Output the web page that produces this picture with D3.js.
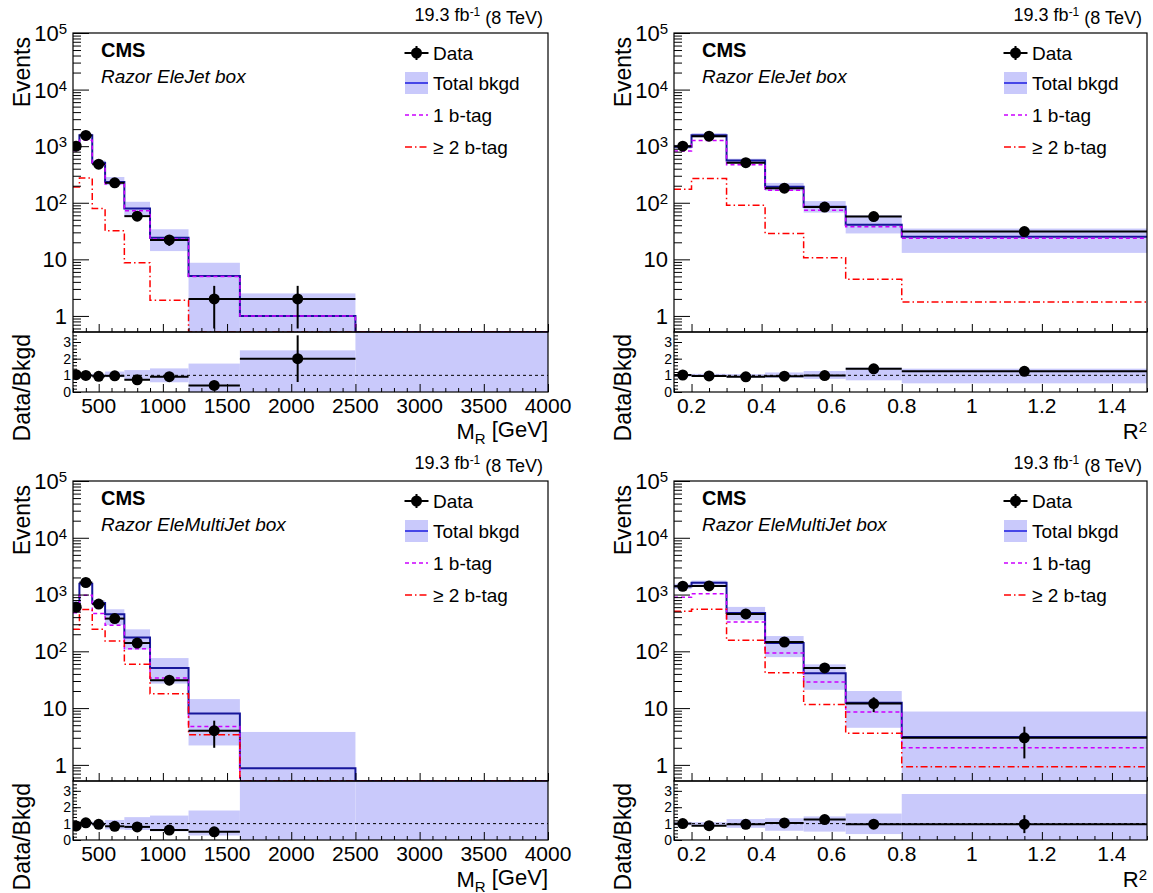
<!DOCTYPE html>
<html>
<head>
<meta charset="utf-8">
<script src="https://cdn.jsdelivr.net/npm/d3@7"></script>
<style>
    body { margin: 0; background: #fff; }
    svg text { font-family: "Liberation Sans", Arial, sans-serif; fill: #000; }
</style>
</head>
<body>
<div id="chart"></div>
<script>

// bin edges
const mrEdges = [300, 350, 450, 550, 700, 900, 1200, 1600, 2500, 4000];
const r2Edges = [0.15, 0.2, 0.3, 0.41, 0.52, 0.64, 0.8, 1.5];

// Razor EleJet box, M_R
const ejMrData    = [1000, 1550, 480, 225, 58, 22, 2, 2, null];
const ejMrDataErr = [32, 39, 22, 15, 7.6, 4.7, 1.4, 1.4, null];
const ejMrTotal   = [960, 1560, 510, 232, 79, 24, 5.1, 1.0, 0.05];
const ejMrBandLo  = [880, 1450, 460, 205, 58, 14, 0, 0, 0];
const ejMrBandHi  = [1040, 1680, 560, 285, 104, 34, 8.7, 2.5, 0.4];
const ejMr1b      = [830, 1270, 470, 215, 72, 23, 5.0, 1.0, 0];
const ejMr2b      = [190, 275, 79, 32, 8.7, 1.9, 0, 0, 0];

// Razor EleJet box, R^2
const ejR2Data    = [1000, 1500, 510, 181, 84, 57, 31];
const ejR2DataErr = [32, 39, 23, 13, 9.2, 7.5, 5.6];
const ejR2Total   = [980, 1560, 560, 191, 85, 41, 25];
const ejR2BandLo  = [900, 1430, 490, 163, 67, 28.7, 13];
const ejR2BandHi  = [1060, 1700, 600, 224, 107, 60, 35];
const ejR21b      = [823, 1255, 470, 167, 74, 37.6, 23.5];
const ejR22b      = [174, 268, 90, 28.7, 10.7, 4.44, 1.77];

// Razor EleMultiJet box, M_R
const emMrData    = [600, 1630, 680, 377, 140, 31, 4, null, null];
const emMrDataErr = [24, 40, 26, 19, 12, 5.6, 2, null, null];
const emMrTotal   = [700, 1550, 710, 450, 175, 51, 8, 0.87, 0.05];
const emMrBandLo  = [620, 1420, 640, 290, 107, 27, 2.2, 0, 0];
const emMrBandHi  = [780, 1700, 790, 550, 244, 76, 14.4, 3.8, 0.4];
const emMr1b      = [480, 973, 462, 288, 111, 34, 4.75, 0, 0];
const emMr2b      = [244, 544, 244, 152, 59, 17.9, 3.4, 0, 0];

// Razor EleMultiJet box, R^2
const emR2Data    = [1400, 1420, 456, 146, 51, 12, 3];
const emR2DataErr = [37, 38, 21, 12, 7.1, 3.5, 1.7];
const emR2Total   = [1400, 1620, 475, 140, 41, 12.4, 3.1];
const emR2BandLo  = [1250, 1480, 353, 79, 21, 4.5, 0];
const emR2BandHi  = [1550, 1760, 606, 186, 59, 20, 8.7];
const emR21b      = [900, 1030, 330, 93, 28.8, 8.5, 2.0];
const emR22b      = [508, 551, 156, 42, 11.6, 3.6, 0.93];

// axis ticks
const mrMajor = [500, 1000, 1500, 2000, 2500, 3000, 3500, 4000];
const r2Major = [0.2, 0.4, 0.6, 0.8, 1, 1.2, 1.4];
const logMajor = [1, 10, 100, 1000, 10000, 100000];
const ratioMajor = [0, 1, 2, 3];

const legendLabels = ["Data", "Total bkgd", "1 b-tag", "\u2265 2 b-tag"];

const W = 1153, H = 893;
const svg = d3.select("#chart").append("svg")
    .attr("width", W)
    .attr("height", H);

svg.append("rect").attr("width", W).attr("height", H).attr("fill", "#fff");

class RazorPanel {

    constructor(svg, cfg) {
        this.svg = svg;
        this.cfg = cfg;
        this.initVis();
    }

    initVis() {
        let vis = this;
        let c = vis.cfg;

        vis.g = vis.svg.append("g").attr("class", "panel-" + c.id);

        vis.x = d3.scaleLinear().domain(c.xDomain).range([c.left, c.right]);
        vis.y = d3.scaleLog().domain([0.52, 1e5]).range([c.mainBottom, c.top]).clamp(true);
        vis.yr = d3.scaleLinear().domain([0, 3.6]).range([c.ratioBottom, c.mainBottom]).clamp(true);

        // clip paths
        let defs = vis.g.append("defs");
        defs.append("clipPath").attr("id", "clipMain" + c.id)
            .append("rect")
            .attr("x", c.left).attr("y", c.top)
            .attr("width", c.right - c.left).attr("height", c.mainBottom - c.top);
        defs.append("clipPath").attr("id", "clipRatio" + c.id)
            .append("rect")
            .attr("x", c.left).attr("y", c.mainBottom)
            .attr("width", c.right - c.left).attr("height", c.ratioBottom - c.mainBottom);

        vis.main = vis.g.append("g").attr("clip-path", "url(#clipMain" + c.id + ")");
        vis.ratio = vis.g.append("g").attr("clip-path", "url(#clipRatio" + c.id + ")");

        vis.updateVis();
    }

    yv(v) {
        return this.y(Math.max(v, 0.01));
    }

    stepPath(values) {
        let vis = this;
        let e = vis.cfg.edges;
        let pts = [];
        values.forEach((v, i) => {
            pts.push([vis.x(e[i]), vis.yv(v)]);
            pts.push([vis.x(e[i + 1]), vis.yv(v)]);
        });
        return d3.line()(pts);
    }

    updateVis() {
        let vis = this;
        let c = vis.cfg;
        let e = c.edges;
        let bins = d3.range(e.length - 1);

        // ---- main pad ----
        // uncertainty band
        vis.main.selectAll(".band")
            .data(bins)
            .enter().append("rect")
            .attr("class", "band")
            .attr("x", i => vis.x(e[i]))
            .attr("width", i => vis.x(e[i + 1]) - vis.x(e[i]))
            .attr("y", i => vis.yv(c.bandHi[i]))
            .attr("height", i => vis.yv(c.bandLo[i]) - vis.yv(c.bandHi[i]))
            .attr("fill", "#c9c9fb");

        // total background
        vis.main.append("path")
            .attr("d", vis.stepPath(c.total))
            .attr("fill", "none")
            .attr("stroke", "#16169a")
            .attr("stroke-width", 2);

        // 1 b-tag
        vis.main.append("path")
            .attr("d", vis.stepPath(c.oneB))
            .attr("fill", "none")
            .attr("stroke", "#cc00ff")
            .attr("stroke-width", 1.5)
            .attr("stroke-dasharray", "4,3");

        // >= 2 b-tag
        vis.main.append("path")
            .attr("d", vis.stepPath(c.twoB))
            .attr("fill", "none")
            .attr("stroke", "#ff0000")
            .attr("stroke-width", 1.5)
            .attr("stroke-dasharray", "7,3,1.5,3");

        // data points
        let dataBins = bins.filter(i => c.data[i] != null);
        vis.drawPoints(vis.main, dataBins,
            i => vis.yv(c.data[i]),
            i => vis.yv(c.data[i] - c.dataErr[i]),
            i => vis.yv(c.data[i] + c.dataErr[i]));

        // ---- ratio pad ----
        vis.ratio.selectAll(".rband")
            .data(bins)
            .enter().append("rect")
            .attr("class", "rband")
            .attr("x", i => vis.x(e[i]))
            .attr("width", i => vis.x(e[i + 1]) - vis.x(e[i]))
            .attr("y", i => vis.yr(c.bandHi[i] / c.total[i]))
            .attr("height", i => vis.yr(c.bandLo[i] / c.total[i]) - vis.yr(c.bandHi[i] / c.total[i]))
            .attr("fill", "#c9c9fb");

        vis.ratio.append("line")
            .attr("x1", c.left).attr("x2", c.right)
            .attr("y1", vis.yr(1)).attr("y2", vis.yr(1))
            .attr("stroke", "#000")
            .attr("stroke-width", 1)
            .attr("stroke-dasharray", "3,3");

        vis.drawPoints(vis.ratio, dataBins,
            i => vis.yr(c.data[i] / c.total[i]),
            i => vis.yr((c.data[i] - c.dataErr[i]) / c.total[i]),
            i => vis.yr((c.data[i] + c.dataErr[i]) / c.total[i]));

        vis.drawAxes();
        vis.drawText();
        vis.drawLegend();
    }

    drawPoints(group, idx, yMid, yLo, yHi) {
        let vis = this;
        let e = vis.cfg.edges;
        let pts = group.append("g").attr("class", "points");

        pts.selectAll(".xerr").data(idx).enter().append("line")
            .attr("x1", i => vis.x(e[i])).attr("x2", i => vis.x(e[i + 1]))
            .attr("y1", yMid).attr("y2", yMid)
            .attr("stroke", "#000").attr("stroke-width", 2);

        pts.selectAll(".yerr").data(idx).enter().append("line")
            .attr("x1", i => vis.x((e[i] + e[i + 1]) / 2)).attr("x2", i => vis.x((e[i] + e[i + 1]) / 2))
            .attr("y1", yLo).attr("y2", yHi)
            .attr("stroke", "#000").attr("stroke-width", 2);

        pts.selectAll("circle").data(idx).enter().append("circle")
            .attr("cx", i => vis.x((e[i] + e[i + 1]) / 2))
            .attr("cy", yMid)
            .attr("r", 5.5)
            .attr("fill", "#000");
    }

    drawAxes() {
        let vis = this;
        let c = vis.cfg;
        let ax = vis.g.append("g").attr("class", "axes");

        let strip = g => g.select(".domain").remove();

        // log minor ticks
        let logMinor = [];
        [0.1, 1, 10, 100, 1000, 10000].forEach(d => {
            for (let k = 2; k <= 9; k++) {
                let v = d * k;
                if (v >= 0.52 && v <= 1e5) logMinor.push(v);
            }
        });

        ax.append("g").attr("transform", `translate(${c.left},0)`)
            .call(d3.axisLeft(vis.y).tickValues(logMajor).tickSize(-16).tickFormat(""))
            .call(strip);
        ax.append("g").attr("transform", `translate(${c.left},0)`)
            .call(d3.axisLeft(vis.y).tickValues(logMinor).tickSize(-8).tickFormat(""))
            .call(strip);

        // x ticks on main pad bottom and ratio pad bottom
        [c.mainBottom, c.ratioBottom].forEach(yy => {
            ax.append("g").attr("transform", `translate(0,${yy})`)
                .call(d3.axisBottom(vis.x).tickValues(c.xMajor).tickSize(-8).tickFormat(""))
                .call(strip);
            ax.append("g").attr("transform", `translate(0,${yy})`)
                .call(d3.axisBottom(vis.x).tickValues(c.xMinor).tickSize(-4).tickFormat(""))
                .call(strip);
        });

        // ratio y ticks
        ax.append("g").attr("transform", `translate(${c.left},0)`)
            .call(d3.axisLeft(vis.yr).tickValues(ratioMajor).tickSize(-8).tickFormat(""))
            .call(strip);
        ax.append("g").attr("transform", `translate(${c.left},0)`)
            .call(d3.axisLeft(vis.yr).tickValues(d3.range(0.2, 3.6, 0.2)).tickSize(-4).tickFormat(""))
            .call(strip);

        ax.selectAll(".tick line").attr("stroke", "#000").attr("stroke-width", 1);

        // frames
        ax.append("rect")
            .attr("x", c.left).attr("y", c.top)
            .attr("width", c.right - c.left).attr("height", c.mainBottom - c.top)
            .attr("fill", "none").attr("stroke", "#000").attr("stroke-width", 1.2);
        ax.append("rect")
            .attr("x", c.left).attr("y", c.mainBottom)
            .attr("width", c.right - c.left).attr("height", c.ratioBottom - c.mainBottom)
            .attr("fill", "none").attr("stroke", "#000").attr("stroke-width", 1.2);

        // log labels
        let yl = ax.selectAll(".ylab").data(logMajor).enter().append("text")
            .attr("class", "ylab")
            .attr("x", c.left - 6)
            .attr("y", d => vis.y(d))
            .attr("dy", "0.36em")
            .attr("text-anchor", "end")
            .style("font-size", "22px");
        yl.each(function (d) {
            let t = d3.select(this);
            let p = Math.round(Math.log10(d));
            if (p <= 1) {
                t.text(d);
            } else {
                t.append("tspan").text("10");
                t.append("tspan").text(p).attr("dy", "-0.45em").style("font-size", "15px");
            }
        });

        // ratio labels (kept small so the four labels do not collide)
        ax.selectAll(".rlab").data(ratioMajor).enter().append("text")
            .attr("x", c.left - 2)
            .attr("y", d => vis.yr(d))
            .attr("dy", "0.36em")
            .attr("text-anchor", "end")
            .style("font-size", "14px")
            .text(d => d);

        // x labels
        ax.selectAll(".xlab").data(c.xMajor).enter().append("text")
            .attr("x", d => vis.x(d))
            .attr("y", c.ratioBottom + 21)
            .attr("text-anchor", "middle")
            .style("font-size", "21px")
            .text(c.xFormat);
    }

    drawText() {
        let vis = this;
        let c = vis.cfg;
        let t = vis.g.append("g").attr("class", "titles");

        // luminosity
        let lumi = t.append("text")
            .attr("x", c.right - 5).attr("y", c.top - 12)
            .attr("text-anchor", "end")
            .style("font-size", "18px");
        lumi.append("tspan").text("19.3 fb");
        lumi.append("tspan").text("-1").attr("dy", "-0.45em").style("font-size", "12px");
        lumi.append("tspan").text(" (8 TeV)").attr("dy", "0.45em");

        t.append("text")
            .attr("x", c.left + 28).attr("y", c.top + 24)
            .style("font-size", "20px").style("font-weight", "bold")
            .text("CMS");
        t.append("text")
            .attr("x", c.left + 28).attr("y", c.top + 50)
            .style("font-size", "19px").style("font-style", "italic")
            .text(c.boxName);

        // axis titles
        t.append("text")
            .attr("transform", `translate(${c.left - 43},${c.top + 4}) rotate(-90)`)
            .attr("text-anchor", "end")
            .style("font-size", "23px")
            .text("Events");
        t.append("text")
            .attr("transform", `translate(${c.left - 43},${c.mainBottom + 2}) rotate(-90)`)
            .attr("text-anchor", "end")
            .style("font-size", "23px")
            .text("Data/Bkgd");

        let xt = t.append("text")
            .attr("x", c.right).attr("y", c.ratioBottom + 47)
            .attr("text-anchor", "end")
            .style("font-size", "22px");
        if (c.xTitle === "MR") {
            xt.append("tspan").text("M");
            xt.append("tspan").text("R").attr("dy", "0.3em").style("font-size", "15px");
            xt.append("tspan").text(" [GeV]").attr("dy", "-0.3em");
        } else {
            xt.append("tspan").text("R");
            xt.append("tspan").text("2").attr("dy", "-0.45em").style("font-size", "15px");
        }
    }

    drawLegend() {
        let vis = this;
        let c = vis.cfg;
        let lg = vis.g.append("g").attr("class", "legend");
        let sx = c.right - 131.5;
        let tx = c.right - 115;
        let rows = [c.top + 20, c.top + 50, c.top + 82, c.top + 114];

        // Data
        lg.append("line").attr("x1", sx - 12).attr("x2", sx + 12).attr("y1", rows[0]).attr("y2", rows[0])
            .attr("stroke", "#000").attr("stroke-width", 2);
        lg.append("line").attr("x1", sx).attr("x2", sx).attr("y1", rows[0] - 7).attr("y2", rows[0] + 7)
            .attr("stroke", "#000").attr("stroke-width", 2);
        lg.append("circle").attr("cx", sx).attr("cy", rows[0]).attr("r", 5.5).attr("fill", "#000");

        // Total bkgd
        lg.append("rect").attr("x", sx - 11.5).attr("y", rows[1] - 11).attr("width", 23).attr("height", 22)
            .attr("fill", "#c9c9fb");
        lg.append("line").attr("x1", sx - 11.5).attr("x2", sx + 11.5).attr("y1", rows[1]).attr("y2", rows[1])
            .attr("stroke", "#1a1ae0").attr("stroke-width", 1.5);

        // 1 b-tag, >= 2 b-tag
        lg.append("line").attr("x1", sx - 11.5).attr("x2", sx + 11.5).attr("y1", rows[2]).attr("y2", rows[2])
            .attr("stroke", "#cc00ff").attr("stroke-width", 1.5).attr("stroke-dasharray", "4,3");
        lg.append("line").attr("x1", sx - 11.5).attr("x2", sx + 11.5).attr("y1", rows[3]).attr("y2", rows[3])
            .attr("stroke", "#ff0000").attr("stroke-width", 1.5).attr("stroke-dasharray", "7,3,1.5,3");

        lg.selectAll(".ltext").data(legendLabels).enter().append("text")
            .attr("x", tx)
            .attr("y", (d, i) => rows[i])
            .attr("dy", "0.35em")
            .style("font-size", "19px")
            .text(d => d);
    }
}

const mrMinor = d3.range(300, 4001, 100).filter(v => v % 500 !== 0);
const r2Minor = d3.range(0.15, 1.501, 0.05).map(v => +v.toFixed(2)).filter(v => Math.abs(v * 5 - Math.round(v * 5)) > 1e-6);

const layoutTop = {top: 33, mainBottom: 332, ratioBottom: 392};
const layoutBottom = {top: 481, mainBottom: 781, ratioBottom: 840};
const colLeft = {left: 73, right: 548};
const colRight = {left: 674, right: 1147};

const mrAxis = {xDomain: [300, 4000], edges: mrEdges, xMajor: mrMajor, xMinor: mrMinor, xFormat: d => d, xTitle: "MR"};
const r2Axis = {xDomain: [0.15, 1.5], edges: r2Edges, xMajor: r2Major, xMinor: r2Minor, xFormat: d => d, xTitle: "R2"};

new RazorPanel(svg, Object.assign({id: "a", boxName: "Razor EleJet box",
    data: ejMrData, dataErr: ejMrDataErr, total: ejMrTotal, bandLo: ejMrBandLo, bandHi: ejMrBandHi,
    oneB: ejMr1b, twoB: ejMr2b}, layoutTop, colLeft, mrAxis));

new RazorPanel(svg, Object.assign({id: "b", boxName: "Razor EleJet box",
    data: ejR2Data, dataErr: ejR2DataErr, total: ejR2Total, bandLo: ejR2BandLo, bandHi: ejR2BandHi,
    oneB: ejR21b, twoB: ejR22b}, layoutTop, colRight, r2Axis));

new RazorPanel(svg, Object.assign({id: "c", boxName: "Razor EleMultiJet box",
    data: emMrData, dataErr: emMrDataErr, total: emMrTotal, bandLo: emMrBandLo, bandHi: emMrBandHi,
    oneB: emMr1b, twoB: emMr2b}, layoutBottom, colLeft, mrAxis));

new RazorPanel(svg, Object.assign({id: "d", boxName: "Razor EleMultiJet box",
    data: emR2Data, dataErr: emR2DataErr, total: emR2Total, bandLo: emR2BandLo, bandHi: emR2BandHi,
    oneB: emR21b, twoB: emR22b}, layoutBottom, colRight, r2Axis));

</script>
</body>
</html>
